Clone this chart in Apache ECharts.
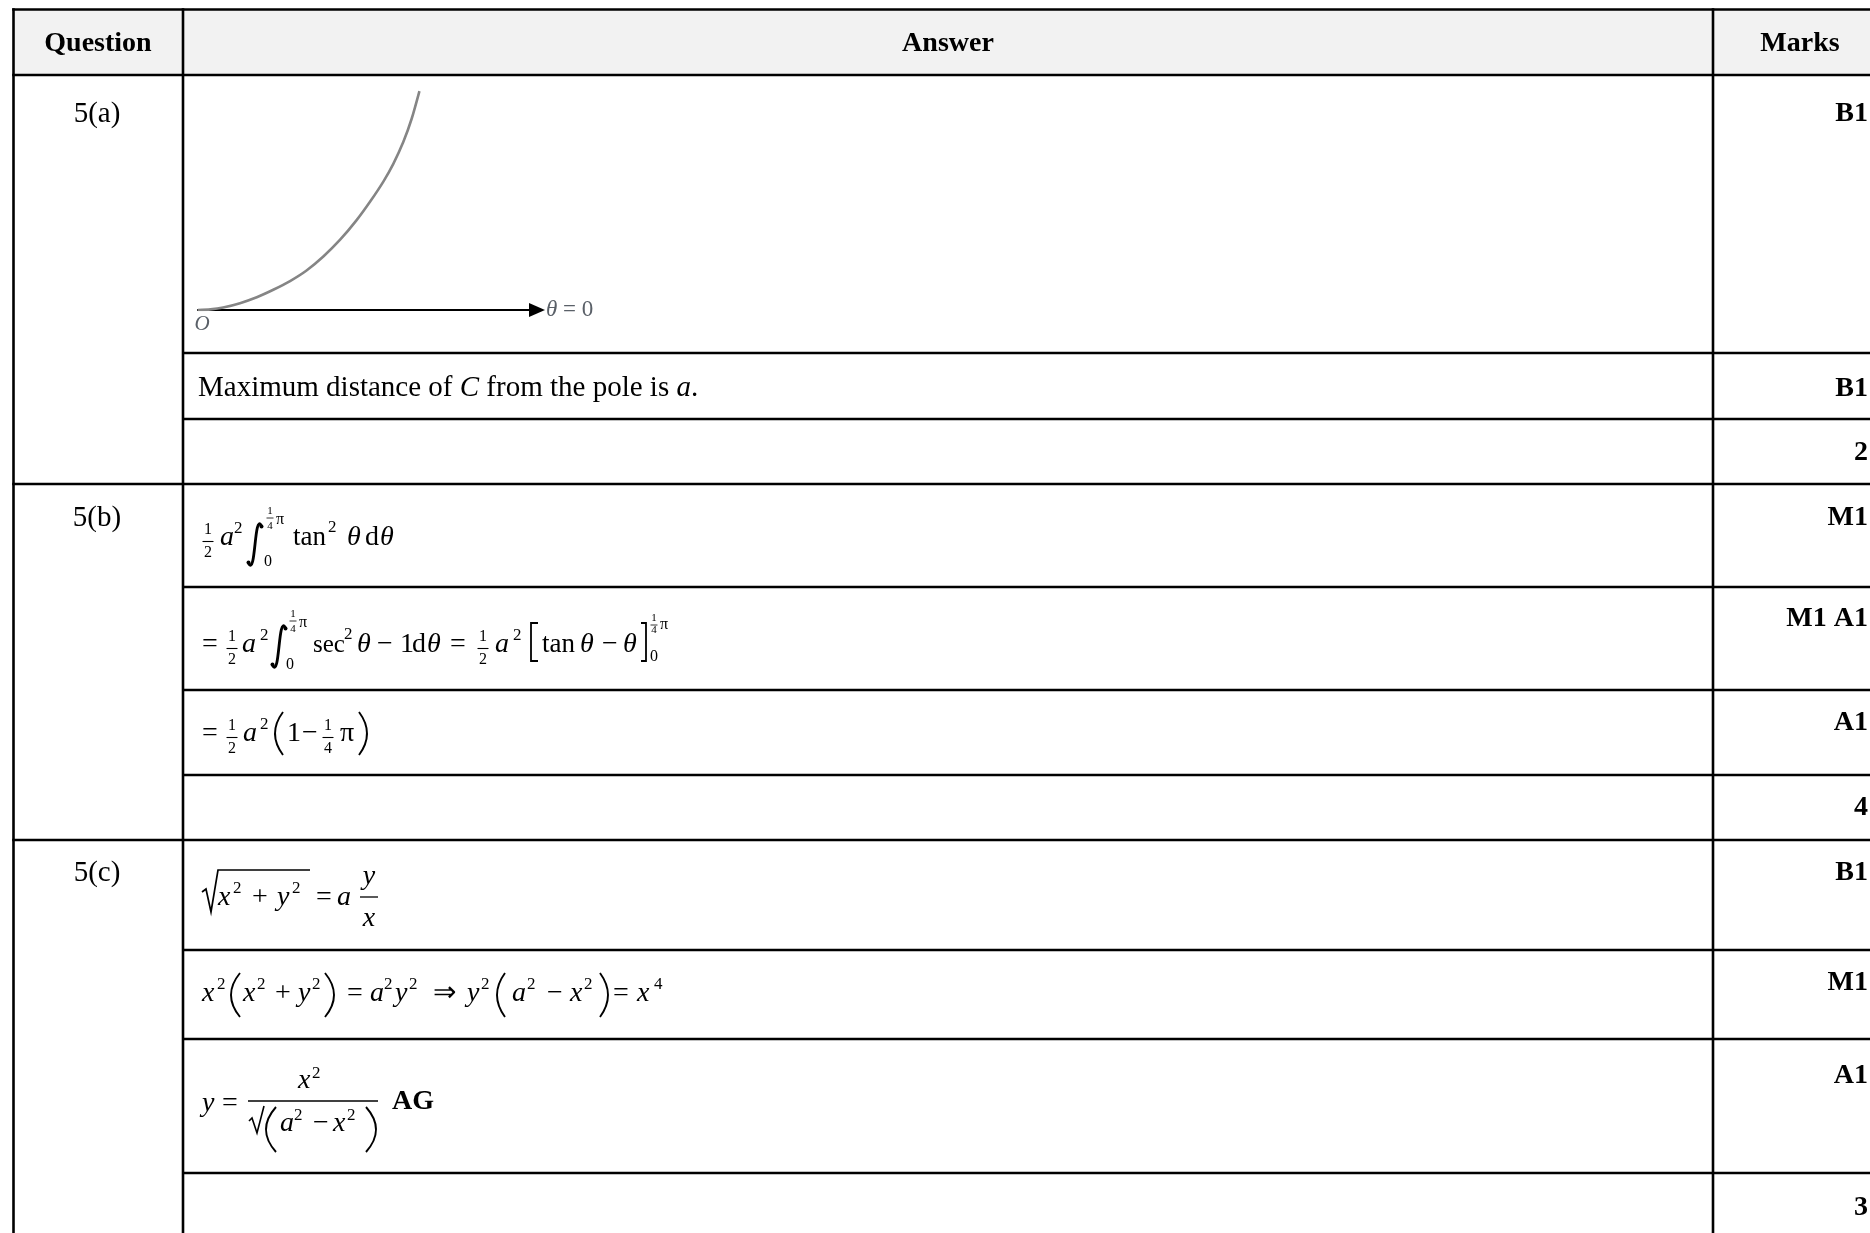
<!DOCTYPE html>
<html>
<head>
<meta charset="utf-8">
<title>Question 5 mark scheme</title>
<script src="https://cdn.jsdelivr.net/npm/echarts@6/dist/echarts.min.js"></script>
<style>
  html, body { margin: 0; padding: 0; background: #fff; }
  #main { width: 1870px; height: 1233px; }
</style>
</head>
<body>
<div id="main"></div>
<script>
// table text
var headerTexts = ['Question', 'Answer', 'Marks'];
var questionLabels = ['5(a)', '5(b)', '5(c)'];
var markLabels = ['B1', 'B1', '2', 'M1', 'M1 A1', 'A1', '4', 'B1', 'M1', 'A1', '3'];
var maxDistanceText = '{r|Maximum distance of }{i|C}{r| from the pole is }{i|a}{r|.}';

// sketch of C : r = a tan θ, 0 ≤ θ ≤ π/4 (units of a)
var curveX = [0, 0.04, 0.081, 0.135, 0.189, 0.242, 0.296, 0.349, 0.403, 0.457, 0.510, 0.553, 0.596, 0.628, 0.660, 0.687, 0.712];
var curveY = [0, 0.002, 0.008, 0.022, 0.041, 0.065, 0.093, 0.127, 0.172, 0.226, 0.289, 0.348, 0.413, 0.470, 0.540, 0.615, 0.704];
var initialLineName = '{t|θ} = 0';
var poleLabel = 'O';

// layout (px)
var FONT = '"Liberation Serif", "Times New Roman", Times, serif';
var BLACK = '#000';
var BW = 2.6;
var colX = [13.5, 183, 1713];
var fullRowY = [9.5, 75, 484, 840];
var innerRowY = [353, 419, 587, 690, 775, 950, 1039, 1173];
var headerBase = 53;
var headerCenter = [98, 948, 1800];
var questionBase = [124, 528, 883];
var markBase = [123, 398, 462, 527, 628, 732, 817, 882, 992, 1085, 1217];
var M = 28, S = 17, F = 16, TXT = 29;

function txt(x, base, s, size, st, align) {
    return {
        type: 'text', x: x, y: base - 0.34 * size, silent: true,
        style: {
            text: s, fill: BLACK,
            fontFamily: FONT, fontSize: size,
            fontStyle: st === 'i' ? 'italic' : 'normal',
            fontWeight: st === 'b' ? 'bold' : 'normal',
            align: align || 'left', verticalAlign: 'middle',
            textAlign: align || 'left', textVerticalAlign: 'middle'
        }
    };
}
function seg(x1, y1, x2, y2, w) {
    return {type: 'line', silent: true, shape: {x1: x1, y1: y1, x2: x2, y2: y2}, style: {stroke: BLACK, lineWidth: w}};
}
function poly(pts, w) {
    return {type: 'polyline', silent: true, shape: {points: pts}, style: {stroke: BLACK, lineWidth: w, fill: null}};
}
// small stacked fraction
function frac(cx, B, num, den) {
    return [txt(cx, B - 12, num, F, 'r', 'center'), txt(cx, B + 11, den, F, 'r', 'center'), seg(cx - 5.5, B - 5.5, cx + 5.5, B - 5.5, 1.1)];
}
function tinyQuarter(cx, nb, db, by) {
    return [txt(cx, nb, '1', 11, 'r', 'center'), txt(cx, db, '4', 11, 'r', 'center'), seg(cx - 3.5, by, cx + 3.5, by, 0.8)];
}
function paren(xl, xr, top, bot, close) {
    var mid = (top + bot) / 2;
    var sh = close
        ? {x1: xl, y1: top, x2: xl, y2: bot, cpx1: 2 * xr - xl, cpy1: mid}
        : {x1: xr, y1: top, x2: xr, y2: bot, cpx1: 2 * xl - xr, cpy1: mid};
    return {type: 'bezierCurve', silent: true, shape: sh, style: {stroke: BLACK, lineWidth: 1.9, fill: null}};
}
function integral(x, top, bot) {
    return [
        {type: 'bezierCurve', silent: true,
         shape: {x1: x + 13.5, y1: top + 3, x2: x + 0.5, y2: bot - 3, cpx1: x + 6, cpy1: top - 12, cpx2: x + 8, cpy2: bot + 12},
         style: {stroke: BLACK, lineWidth: 2.8, fill: null}},
        {type: 'circle', silent: true, shape: {cx: x + 13.5, cy: top + 3.5, r: 2}, style: {fill: BLACK}},
        {type: 'circle', silent: true, shape: {cx: x + 0.5, cy: bot - 3.5, r: 2}, style: {fill: BLACK}}
    ];
}
// tokens: [x, dy from baseline, text, size, style]
function row(B, list) {
    return list.map(function (t) { return txt(t[0], B + t[1], t[2], t[3], t[4]); });
}

var els = [];
function add(a) { els = els.concat(a); }

// header background + grid lines
add({type: 'rect', silent: true, shape: {x: colX[0], y: fullRowY[0], width: 1870, height: fullRowY[1] - fullRowY[0]}, style: {fill: '#f2f2f2'}});
fullRowY.forEach(function (y) { add(seg(colX[0] - 1.3, y, 1875, y, BW)); });
innerRowY.forEach(function (y) { add(seg(colX[1], y, 1875, y, BW)); });
colX.forEach(function (x) { add(seg(x, fullRowY[0] - 1.3, x, 1240, BW)); });

// header, question labels, marks
headerTexts.forEach(function (h, i) { add(txt(headerCenter[i], headerBase, h, M, 'b', 'center')); });
questionLabels.forEach(function (q, i) { add(txt(97, questionBase[i], q, TXT, 'r', 'center')); });
markLabels.forEach(function (m, i) { add(txt(1868, markBase[i], m, M, 'b', 'right')); });

// 5(a) text line
add({
    type: 'text', x: 198, y: 398 - 0.34 * TXT, silent: true,
    style: {
        text: maxDistanceText, fontFamily: FONT, fontSize: TXT, fill: BLACK,
        verticalAlign: 'middle', textVerticalAlign: 'middle',
        rich: {
            r: {fontFamily: FONT, fontSize: TXT, color: BLACK},
            i: {fontFamily: FONT, fontSize: TXT, color: BLACK, fontStyle: 'italic'}
        }
    }
});

// 5(b) line 1
var B = 547;
add(frac(208, B, '1', '2'));
add(row(B, [[220, 0, 'a', M, 'i'], [234, -13, '2', S], [264, 20, '0', 16], [276, -22, 'π', 16],
    [293, 0, 'tan', 27], [328, -14, '2', S], [347, 0, 'θ', M, 'i'], [365, 0, 'd', M], [380, 0, 'θ', M, 'i']]));
add(integral(248, 523, 566));
add(tinyQuarter(270, 515, 530, 518));

// 5(b) line 2
B = 654;
add(row(B, [[202, 0, '=', M]]));
add(frac(232, B, '1', '2'));
add(row(B, [[242, 0, 'a', M, 'i'], [260, -13, '2', S], [286, 16, '0', 16], [299, -26, 'π', 16],
    [313, 0, 'sec', 25], [344, -14, '2', S], [357, 0, 'θ', M, 'i'], [377, 0, '−', M], [400, 0, '1', M],
    [412, 0, 'd', M], [427, 0, 'θ', M, 'i'], [450, 0, '=', M]]));
add(integral(272, 625, 668));
add(tinyQuarter(293, 618, 633, 621));
add(frac(483, B, '1', '2'));
add(row(B, [[495, 0, 'a', M, 'i'], [513, -13, '2', S], [542, 0, 'tan', 27], [580, 0, 'θ', M, 'i'],
    [602, 0, '−', M], [623, 0, 'θ', M, 'i'], [660, -24, 'π', 16], [650, 8, '0', 16]]));
add(poly([[538, 623], [531, 623], [531, 661], [538, 661]], 1.8));
add(poly([[641, 623], [646, 623], [646, 661], [641, 661]], 1.8));
add(tinyQuarter(654, 622, 634, 625));

// 5(b) line 3
B = 743;
add(row(B, [[202, 0, '=', M]]));
add(frac(232, B, '1', '2'));
add(row(B, [[243, 0, 'a', M, 'i'], [260, -13, '2', S], [287, 0, '1', M], [302, 0, '−', M], [340, 0, 'π', M]]));
add(frac(328, B, '1', '4'));
add(paren(275, 283, 712, 755, false));
add(paren(359, 367, 712, 755, true));

// 5(c) line 1
B = 907;
add(poly([[202, 892], [206, 889], [211, 912], [218, 870], [310, 870]], 1.7));
add(row(B, [[218, 0, 'x', M, 'i'], [233, -13, '2', S], [252, 0, '+', M], [277, 0, 'y', M, 'i'], [292, -13, '2', S],
    [316, 0, '=', M], [337, 0, 'a', M, 'i']]));
add(txt(369, 886, 'y', M, 'i', 'center'));
add(txt(369, 928, 'x', M, 'i', 'center'));
add(seg(360, 897, 378, 897, 1.3));

// 5(c) line 2
B = 1003;
add(row(B, [[202, 0, 'x', M, 'i'], [217, -13, '2', S], [243, 0, 'x', M, 'i'], [257, -13, '2', S], [275, 0, '+', M],
    [298, 0, 'y', M, 'i'], [312, -13, '2', S], [347, 0, '=', M], [370, 0, 'a', M, 'i'], [384, -13, '2', S],
    [395, 0, 'y', M, 'i'], [409, -13, '2', S], [433, 0, '⇒', M], [467, 0, 'y', M, 'i'], [481, -13, '2', S],
    [512, 0, 'a', M, 'i'], [527, -13, '2', S], [547, 0, '−', M], [570, 0, 'x', M, 'i'], [584, -13, '2', S],
    [613, 0, '=', M], [637, 0, 'x', M, 'i'], [654, -13, '4', S]]));
add(paren(231, 240, 973, 1017, false));
add(paren(325, 334, 973, 1017, true));
add(paren(497, 505, 973, 1017, false));
add(paren(600, 608, 973, 1017, true));

// 5(c) line 3
B = 1113;
add(row(B, [[202, 0, 'y', M, 'i'], [222, 0, '=', M]]));
add(seg(248, 1101, 378, 1101, 1.3));
add(row(1090, [[298, 0, 'x', M, 'i'], [312, -11, '2', S]]));
add(poly([[249, 1121], [252, 1118], [257, 1133], [264, 1106]], 1.6));
add(row(1133, [[280, 0, 'a', M, 'i'], [294, -12, '2', S], [313, 0, '−', M], [333, 0, 'x', M, 'i'], [347, -12, '2', S]]));
add(paren(266, 276, 1107, 1152, false));
add(paren(366, 376, 1107, 1152, true));
add(txt(392, 1111, 'AG', M, 'b'));

var chart = echarts.init(document.getElementById('main'));
var option = {
    animation: false,
    backgroundColor: '#fff',
    grid: {left: 198, top: 76.75, width: 339, height: 233.25, containLabel: false},
    xAxis: {
        type: 'value', min: 0, max: 1.09, interval: 0.5,
        axisLine: {show: true, onZero: false, symbol: ['none', 'triangle'], symbolSize: [14, 16],
            lineStyle: {color: '#000', width: 2}},
        axisTick: {show: false},
        splitLine: {show: false},
        axisLabel: {
            show: true, margin: 4, showMaxLabel: false,
            formatter: function (v) { return v === 0 ? poleLabel : ''; },
            fontFamily: FONT, fontStyle: 'italic', fontSize: 21, color: '#5a6068', padding: [0, 0, 0, 8]
        },
        name: initialLineName, nameLocation: 'end', nameGap: 9,
        nameTextStyle: {
            fontFamily: FONT, fontSize: 23, color: '#5a6068',
            rich: {t: {fontFamily: FONT, fontSize: 23, fontStyle: 'italic', color: '#5a6068'}}
        }
    },
    yAxis: {type: 'value', min: 0, max: 0.75, show: false},
    series: [{
        type: 'line',
        data: curveX.map(function (x, i) { return [x, curveY[i]]; }),
        smooth: 0.25,
        showSymbol: false,
        symbol: 'none',
        lineStyle: {color: '#858585', width: 2.6}
    }],
    graphic: {elements: els}
};
chart.setOption(option);
</script>
</body>
</html>
